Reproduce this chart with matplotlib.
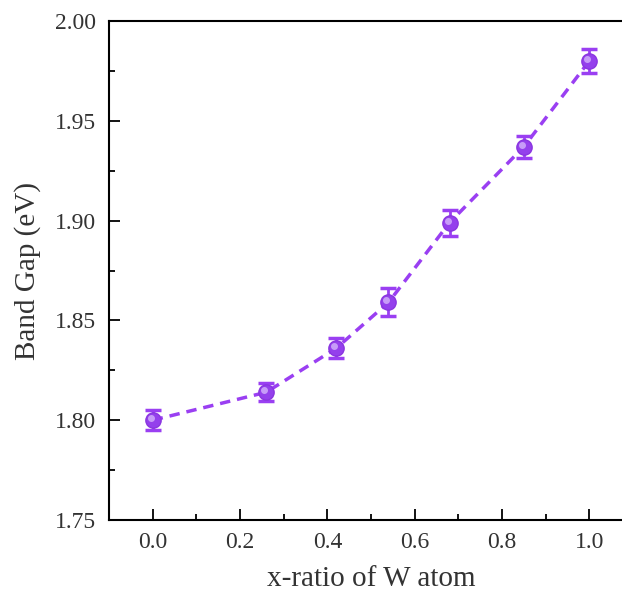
import numpy as np
import matplotlib
matplotlib.use("Agg")
import matplotlib.pyplot as plt
from matplotlib.ticker import MultipleLocator, FormatStrFormatter
from matplotlib.transforms import offset_copy

# data
x_ratio = [0.0, 0.26, 0.42, 0.54, 0.68, 0.85, 1.0]
band_gap = [1.800, 1.814, 1.836, 1.859, 1.899, 1.937, 1.980]
gap_err = [0.005, 0.0045, 0.005, 0.007, 0.0065, 0.0055, 0.006]

purple = '#9a3ff2'

plt.rcParams['font.family'] = ['Liberation Serif', 'DejaVu Serif']

fig = plt.figure(figsize=(6.22, 5.94), dpi=100)
# right spine falls just outside the picture, as in the reference
ax = fig.add_axes([109 / 622, 74 / 594, (633 - 109) / 622, (520 - 21) / 594])

ax.plot(x_ratio, band_gap, linestyle=(0, (3, 2)), color=purple, linewidth=2.5, zorder=2)
ax.errorbar(x_ratio, band_gap, yerr=gap_err, fmt='o', color=purple, ecolor=purple,
            elinewidth=2, capsize=6, capthick=2.5, markersize=11,
            markerfacecolor='#9440ec', markeredgecolor='#8a35e0', zorder=3)
# small highlight to mimic the shaded spheres
hl = offset_copy(ax.transData, fig=fig, x=-1.5, y=1.5, units='points')
ax.plot(x_ratio, band_gap, 'o', color='#c79cf8', markersize=4,
        linestyle='none', zorder=4, transform=hl)

ax.set_xlim(-0.1, 1.1)
ax.set_ylim(1.75, 2.00)
ax.xaxis.set_major_locator(MultipleLocator(0.2))
ax.xaxis.set_minor_locator(MultipleLocator(0.1))
ax.yaxis.set_major_locator(MultipleLocator(0.05))
ax.yaxis.set_minor_locator(MultipleLocator(0.025))
ax.xaxis.set_major_formatter(FormatStrFormatter('%.1f'))
ax.yaxis.set_major_formatter(FormatStrFormatter('%.2f'))

ax.tick_params(which='both', direction='in', top=False, right=False,
               labelsize=17, labelcolor='#333333', width=1.3)
ax.tick_params(which='major', length=8, pad=9)
ax.tick_params(which='minor', length=4)
for s in ax.spines.values():
    s.set_linewidth(1.5)

ax.set_xlabel('x-ratio of W atom', fontsize=21, color='#333333', labelpad=9)
ax.set_ylabel('Band Gap (eV)', fontsize=21, color='#333333', labelpad=10)

fig.savefig('out.png', dpi=100)
